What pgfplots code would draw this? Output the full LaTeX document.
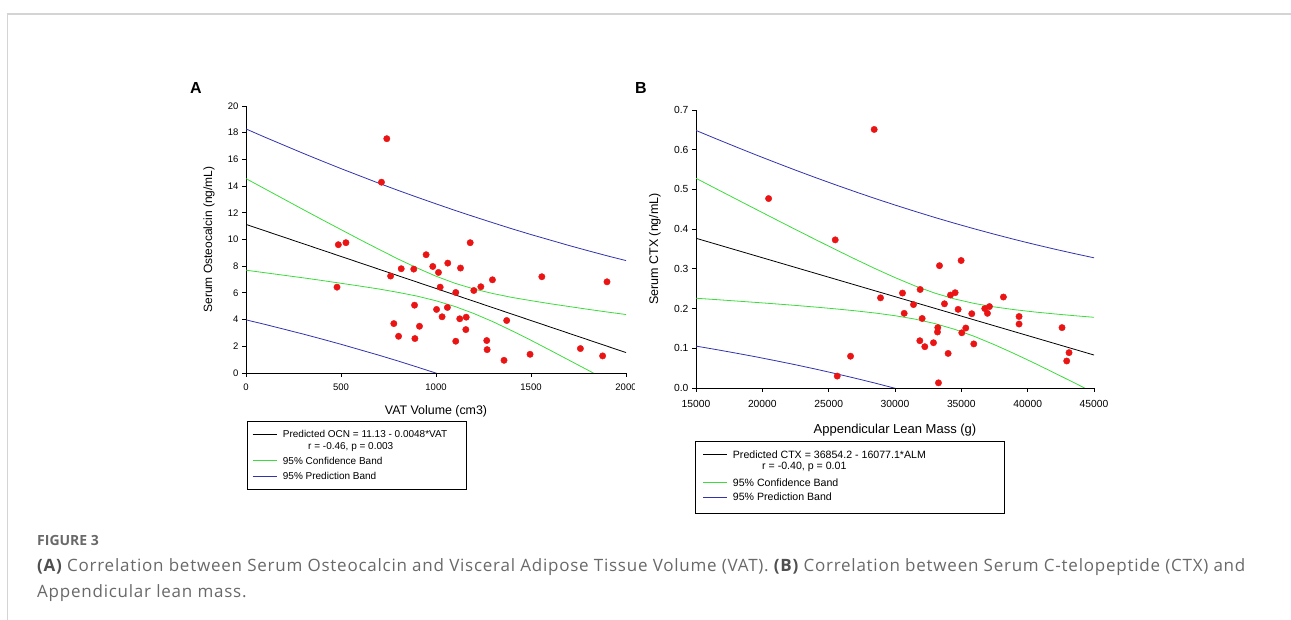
\documentclass[border=0pt]{standalone}
\usepackage{fontspec}
\setmainfont{Liberation Sans}
\newfontfamily\capfont[LetterSpace=4.5]{Open Sans}
\newfontfamily\capfonthead{Open Sans}
\usepackage{pgfplots}
\pgfplotsset{compat=1.18}
\definecolor{ptred}{RGB}{235,20,20}
\definecolor{bgreen}{RGB}{60,220,60}
\definecolor{pblue}{RGB}{50,50,175}
\definecolor{framegray}{RGB}{212,212,212}
\definecolor{capgray}{RGB}{105,105,105}
\definecolor{capdark}{RGB}{80,80,80}
\pgfplotsset{myax/.style={scale only axis, axis lines=left, axis line style={-, line width=0.8pt},
  tick align=outside, major tick length=4pt, tick style={black, line width=0.8pt},
  /pgf/number format/assume math mode=true, /pgf/number format/1000 sep={},
  scaled ticks=false},
  reg/.style={no marks, black, line width=0.8pt},
  conf/.style={no marks, bgreen, line width=0.8pt},
  pred/.style={no marks, pblue, line width=0.8pt},
  dots/.style={only marks, mark=*, mark size=3.2pt, mark options={fill=ptred, draw=ptred}}}
\begin{document}
\begin{tikzpicture}[x=1pt,y=1pt]
\useasboundingbox (0,0) rectangle (1291,620);
\draw[framegray, line width=1.4pt] (7.5,0) -- (7.5,606) -- (1291,606);
% Panel A
\begin{axis}[myax, at={(246pt,247pt)}, anchor=south west, width=380pt, height=267pt,
  xmin=0, xmax=2000, ymin=0, ymax=20, xtick={0,500,...,2000}, ytick={0,2,...,20},
  tick label style={font=\fontsize{9.5}{10}\selectfont},
  xticklabel style={yshift=-3pt},
  xlabel={VAT Volume (cm3)}, ylabel={Serum Osteocalcin (ng/mL)},
  xlabel style={font=\fontsize{12.4}{14}\selectfont, at={(axis description cs:0.5,-0.142)}, anchor=center},
  ylabel style={font=\fontsize{12}{14}\selectfont, at={(axis description cs:-0.097,0.5)}, anchor=center}]
\addplot[pred] coordinates {(0,18.28)(100,17.66)(200,17.06)(300,16.46)(400,15.88)(500,15.31)(600,14.76)(700,14.21)(800,13.68)(900,13.17)(1000,12.67)(1100,12.18)(1200,11.71)(1300,11.25)(1400,10.80)(1500,10.37)(1600,9.96)(1700,9.55)(1800,9.16)(1900,8.78)(2000,8.42)};
\addplot[pred] coordinates {(0,3.98)(100,3.64)(200,3.28)(300,2.92)(400,2.54)(500,2.15)(600,1.74)(700,1.33)(800,0.90)(900,0.45)(1000,-0.01)(1100,-0.48)};
\addplot[conf] coordinates {(0,14.56)(100,13.79)(200,13.02)(300,12.25)(400,11.49)(500,10.74)(600,9.99)(700,9.26)(800,8.54)(900,7.87)(1000,7.25)(1100,6.72)(1200,6.29)(1300,5.95)(1400,5.66)(1500,5.42)(1600,5.19)(1700,4.98)(1800,4.77)(1900,4.57)(2000,4.38)};
\addplot[conf] coordinates {(0,7.70)(100,7.51)(200,7.32)(300,7.13)(400,6.93)(500,6.72)(600,6.51)(700,6.29)(800,6.04)(900,5.76)(1000,5.41)(1100,4.98)(1200,4.45)(1300,3.84)(1400,3.16)(1500,2.45)(1600,1.71)(1700,0.96)(1800,0.21)(1900,-0.55)(2000,-1.32)};
\addplot[reg] coordinates {(0,11.13)(2000,1.53)};
\addplot[dots] coordinates {(741,17.55)(713,14.29)(486,9.61)(526,9.76)(479,6.43)(761,7.26)(817,7.81)(883,7.78)(948,8.86)(983,7.98)(1013,7.53)(1062,8.23)(1129,7.86)(1180,9.76)(1022,6.43)(1104,6.03)(1199,6.18)(1236,6.46)(1297,6.98)(1557,7.21)(1900,6.83)(887,5.08)(1003,4.76)(1060,4.91)(1032,4.21)(1125,4.06)(1159,4.18)(1372,3.93)(778,3.70)(913,3.50)(1157,3.25)(803,2.75)(889,2.58)(1104,2.38)(1267,2.43)(1269,1.75)(1358,0.95)(1495,1.40)(1760,1.83)(1877,1.28)};
\end{axis}
\fill[white] (635,220) rectangle (646,242);
% Panel B
\begin{axis}[myax, at={(696pt,232pt)}, anchor=south west, width=398pt, height=278pt,
  xmin=15000, xmax=45000, ymin=0, ymax=0.7, xtick={15000,20000,...,45000}, ytick={0,0.1,...,0.7},
  tick label style={font=\fontsize{10.3}{11}\selectfont},
  xticklabel style={yshift=-5pt},
  yticklabel style={/pgf/number format/.cd, fixed, fixed zerofill, precision=1},
  xlabel={Appendicular Lean Mass (g)}, ylabel={Serum CTX (ng/mL)},
  xlabel style={font=\fontsize{13}{15}\selectfont, at={(axis description cs:0.5,-0.151)}, anchor=center},
  ylabel style={font=\fontsize{12.5}{14}\selectfont, at={(axis description cs:-0.103,0.5)}, anchor=center}]
\addplot[pred] coordinates {(15000,0.6485)(16500,0.6277)(18000,0.6073)(19500,0.5872)(21000,0.5677)(22500,0.5485)(24000,0.5299)(25500,0.5118)(27000,0.4942)(28500,0.4771)(30000,0.4607)(31500,0.4448)(33000,0.4294)(34500,0.4147)(36000,0.4006)(37500,0.3871)(39000,0.3741)(40500,0.3617)(42000,0.3499)(43500,0.3386)(45000,0.3278)};
\addplot[pred] coordinates {(15000,0.1055)(16500,0.0969)(18000,0.0879)(19500,0.0786)(21000,0.0687)(22500,0.0585)(24000,0.0477)(25500,0.0364)(27000,0.0246)(28500,0.0123)(30000,-0.0007)(31500,-0.0142)};
\addplot[conf] coordinates {(15000,0.5280)(16500,0.5020)(18000,0.4761)(19500,0.4503)(21000,0.4246)(22500,0.3991)(24000,0.3738)(25500,0.3489)(27000,0.3244)(28500,0.3006)(30000,0.2780)(31500,0.2571)(33000,0.2389)(34500,0.2241)(36000,0.2127)(37500,0.2041)(39000,0.1972)(40500,0.1915)(42000,0.1866)(43500,0.1821)(45000,0.1780)};
\addplot[conf] coordinates {(15000,0.2260)(16500,0.2226)(18000,0.2191)(19500,0.2155)(21000,0.2118)(22500,0.2079)(24000,0.2038)(25500,0.1993)(27000,0.1944)(28500,0.1888)(30000,0.1820)(31500,0.1735)(33000,0.1623)(34500,0.1477)(36000,0.1297)(37500,0.1089)(39000,0.0864)(40500,0.0627)(42000,0.0382)(43500,0.0133)(45000,-0.0120)};
\addplot[reg] coordinates {(15000,0.377)(45000,0.083)};
\addplot[dots] coordinates {(28431,0.651)(20473,0.477)(25494,0.373)(28908,0.227)(30565,0.239)(30691,0.188)(31394,0.210)(31896,0.248)(32046,0.175)(33352,0.308)(34984,0.321)(33728,0.212)(34180,0.234)(34532,0.240)(34758,0.198)(35787,0.187)(36766,0.200)(36967,0.188)(37118,0.205)(38172,0.229)(39352,0.180)(39352,0.161)(42590,0.152)(43118,0.089)(42942,0.068)(33226,0.152)(33201,0.141)(35335,0.151)(35034,0.139)(31871,0.119)(32247,0.104)(32900,0.114)(34004,0.087)(35938,0.111)(26649,0.080)(25645,0.030)(33276,0.013)};
\end{axis}
% panel letters
\node[font=\fontsize{16}{18}\selectfont\bfseries] at (196,532) {A};
\node[font=\fontsize{16}{18}\selectfont\bfseries] at (641,532) {B};
% legend A
\draw[black, line width=0.9pt] (247,131) rectangle (466,199);
\begin{scope}[every node/.style={anchor=west, inner sep=0pt, font=\fontsize{10}{11}\selectfont}]
\draw[black, line width=0.8pt] (252.7,186) -- (276.7,186);
\node at (282.7,186) {Predicted OCN = 11.13 - 0.0048*VAT};
\node at (308,173) {r = -0.46, p = 0.003};
\draw[bgreen, line width=0.8pt] (252.7,159.3) -- (276.7,159.3);
\node at (282.7,159.3) {95\% Confidence Band};
\draw[pblue, line width=0.8pt] (252.7,144) -- (276.7,144);
\node at (282.7,144) {95\% Prediction Band};
\end{scope}
% legend B
\draw[black, line width=0.9pt] (695,107) rectangle (1004,179);
\begin{scope}[every node/.style={anchor=west, inner sep=0pt, font=\fontsize{10.6}{12}\selectfont}]
\draw[black, line width=0.8pt] (703,165.7) -- (727,165.7);
\node at (732.7,165.7) {Predicted CTX = 36854.2 - 16077.1*ALM};
\node at (762,152.7) {r = -0.40, p = 0.01};
\draw[bgreen, line width=0.8pt] (703,137.3) -- (727,137.3);
\node at (732.7,137.3) {95\% Confidence Band};
\draw[pblue, line width=0.8pt] (703,123) -- (727,123);
\node at (732.7,123) {95\% Prediction Band};
\end{scope}
% caption
\node[anchor=base west, inner sep=0pt, text=capgray, font=\capfonthead\fontsize{14}{16}\selectfont\bfseries] at (37,74) {FIGURE 3};
\node[anchor=base west, inner sep=0pt, text=capgray, font=\capfont\fontsize{17}{19}\selectfont] at (37,48) {{\color{capdark}\bfseries(A)} Correlation between Serum Osteocalcin and Visceral Adipose Tissue Volume (VAT). {\color{capdark}\bfseries(B)} Correlation between Serum C-telopeptide (CTX) and};
\node[anchor=base west, inner sep=0pt, text=capgray, font=\capfont\fontsize{17}{19}\selectfont] at (37,22) {Appendicular lean mass.};
\end{tikzpicture}
\end{document}
